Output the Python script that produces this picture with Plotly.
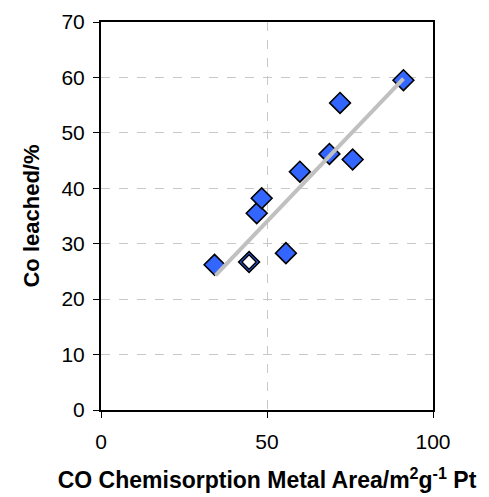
import plotly.graph_objects as go

# Data
x_filled = [34.2, 46.9, 48.4, 55.7, 59.9, 68.8, 72.0, 75.8, 91.1]
y_filled = [26.2, 35.5, 38.2, 28.3, 43.0, 46.2, 55.4, 45.2, 59.5]
x_open = [44.6]
y_open = [26.7]
trend_x = [34.5, 91.1]
trend_y = [24.3, 59.8]

x_ticks = [0, 50, 100]
y_ticks = [0, 10, 20, 30, 40, 50, 60, 70]

FONT = "Liberation Sans, Arial, sans-serif"

fig = go.Figure()
fig.add_trace(go.Scatter(
    x=x_filled, y=y_filled, mode="markers",
    marker=dict(symbol="diamond", size=16, color="#3366ff",
                line=dict(color="black", width=1.6)),
    showlegend=False, hoverinfo="skip"))
fig.add_trace(go.Scatter(
    x=x_open, y=y_open, mode="markers",
    marker=dict(symbol="diamond", size=16, color="#3366ff",
                line=dict(color="black", width=1.6)),
    showlegend=False, hoverinfo="skip"))
fig.add_trace(go.Scatter(
    x=x_open, y=y_open, mode="markers",
    marker=dict(symbol="diamond", size=11, color="white",
                line=dict(color="black", width=1.4)),
    showlegend=False, hoverinfo="skip"))
fig.add_trace(go.Scatter(
    x=trend_x, y=trend_y, mode="lines",
    line=dict(color="#c0c0c0", width=4),
    showlegend=False, hoverinfo="skip"))

fig.update_layout(
    width=489, height=497,
    margin=dict(l=101, r=56, t=22, b=87),
    paper_bgcolor="white", plot_bgcolor="white",
    font=dict(family=FONT, color="black", size=21),
    xaxis=dict(
        range=[0, 100], tickvals=x_ticks, ticktext=[str(v) for v in x_ticks],
        showline=True, linecolor="black", linewidth=2, mirror=True,
        ticks="outside", ticklen=6, tickcolor="black", tickwidth=1,
        ticklabelstandoff=6, automargin=False,
        showgrid=True, gridcolor="#c8c8c8", griddash="dash", gridwidth=1,
        zeroline=False, tickfont=dict(size=21),
        title=dict(text="<b>CO Chemisorption Metal Area/m<sup>2</sup>g<sup>-1</sup> Pt</b>",
                   font=dict(size=23), standoff=20),
    ),
    yaxis=dict(
        range=[0, 70], tickvals=y_ticks, ticktext=[str(v) for v in y_ticks],
        showline=True, linecolor="black", linewidth=2, mirror=True,
        ticks="outside", ticklen=6, tickcolor="black", tickwidth=1,
        ticklabelstandoff=4, automargin=False,
        showgrid=True, gridcolor="#c8c8c8", griddash="dash", gridwidth=1,
        zeroline=False, tickfont=dict(size=21),
        title=dict(text="<b>Co leached/%</b>", font=dict(size=22), standoff=16),
    ),
)

fig.write_html("out.html")
